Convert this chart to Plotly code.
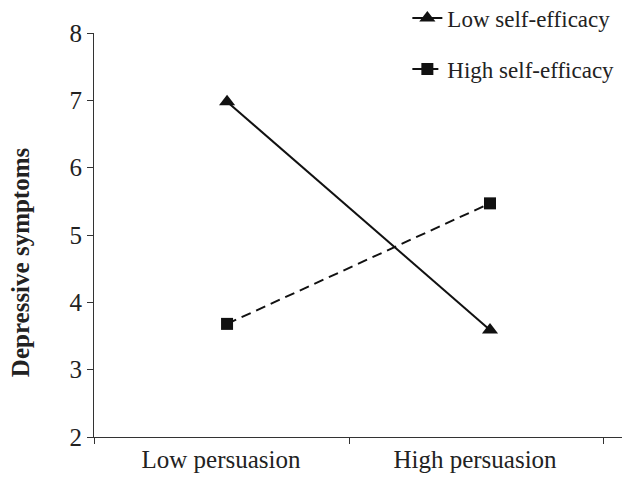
import plotly.graph_objects as go

categories = ["Low persuasion", "High persuasion"]
x_pos = [0, 1]
low_se = [6.98, 3.59]
high_se = [3.68, 5.47]
y_ticks = [2, 3, 4, 5, 6, 7, 8]

font_family = "Liberation Serif, Times New Roman, serif"

fig = go.Figure()
fig.add_trace(go.Scatter(
    x=x_pos, y=low_se, mode="lines+markers", name="Low self-efficacy",
    line=dict(color="#111111", width=2),
    marker=dict(symbol="triangle-up", size=14, color="#111111"),
    legendgroup="a",
))
fig.add_trace(go.Scatter(
    x=x_pos, y=high_se, mode="lines+markers", name="High self-efficacy",
    line=dict(color="#111111", width=2, dash="10px,6px"),
    marker=dict(symbol="square", size=12, color="#111111"),
    legendgroup="b",
))

fig.add_annotation(
    text="<b>Depressive symptoms</b>", xref="paper", yref="paper",
    x=-0.140, y=0.433, xanchor="center", yanchor="middle",
    textangle=-90, showarrow=False, font=dict(size=25, family=font_family, color="#222222"),
)

fig.update_layout(
    width=622, height=484,
    margin=dict(l=94, r=0, t=33, b=47, autoexpand=False),
    plot_bgcolor="white", paper_bgcolor="white",
    font=dict(family=font_family, color="#222222", size=24),
    showlegend=True,
    legend=dict(x=0.995, xanchor="right", y=1.09, yanchor="top",
                font=dict(size=23, family=font_family),
                tracegroupgap=18, bgcolor="rgba(0,0,0,0)"),
    xaxis=dict(
        range=[-0.506, 1.502],
        tickvals=[-0.023, 0.943], ticktext=categories,
        ticks="", showgrid=False, zeroline=False,
        showline=True, linecolor="#333333", linewidth=1,
        tickfont=dict(size=25),
        minor=dict(tickvals=[-0.506, 0.464, 1.430], ticks="outside",
                   ticklen=6, tickcolor="#333333", tickwidth=1, showgrid=False),
    ),
    yaxis=dict(
        range=[2, 8], tickvals=y_ticks,
        ticks="outside", ticklen=6, tickcolor="#333333",
        showgrid=False, zeroline=False,
        showline=True, linecolor="#333333", linewidth=1,
        tickfont=dict(size=25),
    ),
)

fig.write_html("out.html", config={"displayModeBar": False},
               post_script="document.body.style.margin='0';")
